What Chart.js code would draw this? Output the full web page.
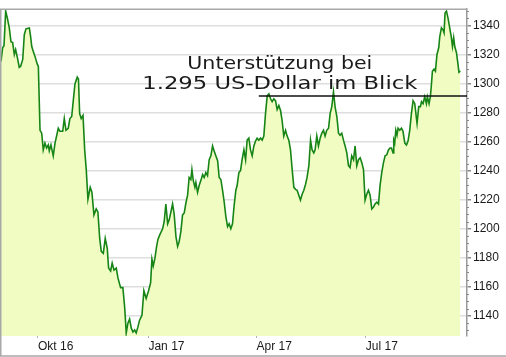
<!DOCTYPE html>
<html>
<head>
<meta charset="utf-8">
<script src="https://cdn.jsdelivr.net/npm/chart.js@4.4.0/dist/chart.umd.min.js"></script>
<style>
    html, body { margin: 0; padding: 0; background: #ffffff; }
    #wrap { width: 506px; height: 357px; }
</style>
</head>
<body>
<div id="wrap"><canvas id="goldChart" width="506" height="357"></canvas></div>
<script>
// Tage seit 1. Sep 2016
const days = [
    -0.8, 0.6, 1.7, 3.1, 4.5, 6.1, 7.5, 8.9, 10.3, 11.4,
    12.8, 14.4, 15.6, 17.3, 18.6, 20.0, 22.8, 23.9, 24.8, 26.1,
    27.5, 29.4, 30.3, 31.7, 33.1, 34.4, 35.8, 37.2, 38.6, 39.4,
    40.8, 42.7, 44.2, 46.9, 48.3, 50.6, 51.9, 53.3, 55.2, 56.6,
    58.1, 59.4, 60.8, 62.7, 63.7, 64.7, 66.0, 67.5, 68.9, 70.2,
    71.6, 73.5, 74.9, 76.6, 78.5, 79.9, 81.4, 82.7, 84.4, 86.0,
    87.7, 88.8, 90.5, 91.8, 93.3, 95.2, 96.6, 98.8, 100.7, 102.2,
    103.5, 104.9, 106.3, 107.7, 109.1, 110.5, 111.8, 113.2, 114.6, 116.6,
    118.2, 120.1, 122.1, 123.8, 124.9, 126.0, 127.4, 128.8, 129.9, 131.5,
    133.8, 135.1, 136.5, 138.0, 139.3, 140.7, 142.1, 143.4, 144.9, 146.3,
    147.6, 149.0, 150.4, 151.8, 153.2, 154.6, 155.9, 157.3, 158.2, 159.3,
    160.7, 161.5, 162.9, 164.3, 165.7, 167.1, 168.4, 169.8, 171.2, 172.6,
    174.0, 175.4, 176.7, 178.1, 179.6, 180.9, 182.3, 183.7, 185.1, 186.5,
    187.9, 189.2, 190.6, 192.0, 193.4, 194.8, 195.9, 197.3, 198.7, 200.0,
    201.5, 202.9, 204.2, 205.6, 207.0, 208.4, 209.8, 211.2, 212.5, 213.9,
    215.4, 216.7, 218.1, 219.5, 220.9, 222.3, 223.7, 225.0, 226.4, 227.8,
    229.2, 230.6, 232.0, 233.3, 234.7, 236.2, 237.5, 238.9, 240.3, 241.7,
    243.1, 244.5, 245.8, 247.2, 248.6, 250.0, 251.4, 252.8, 254.1, 255.6,
    257.0, 258.3, 259.7, 260.8, 262.2, 263.6, 265.0, 266.4, 267.8, 269.1,
    270.5, 272.0, 273.3, 274.7, 276.1, 277.4, 278.9, 280.3, 281.6, 283.0,
    284.4, 285.8, 287.2, 288.6, 289.9, 291.3, 292.8, 294.1, 295.5, 296.9,
    298.3, 299.7, 301.1, 302.4, 303.8, 305.2, 306.6, 308.0, 309.4, 310.7,
    312.2, 313.6, 314.9, 316.3, 317.7, 319.1, 320.5, 321.9, 323.2, 324.4,
    325.7, 326.3, 327.1, 328.0, 329.0, 329.9, 331.3, 332.7, 334.0, 335.5,
    336.9, 338.2, 339.6, 341.0, 342.4, 343.8, 345.2, 345.7, 347.1, 348.5,
    349.4, 350.7, 352.1, 353.5, 354.3, 355.7, 356.8, 357.7, 358.5, 359.8,
    361.0, 362.3, 363.8, 364.6, 366.0, 367.3, 368.2, 369.0, 370.2, 371.5,
    372.9, 374.3, 375.2, 376.2, 377.1, 378.5, 379.6, 380.6, 381.8
];

// Goldpreis in US-Dollar je Unze
const prices = [
    1315.4, 1324.9, 1326.2, 1350.0, 1345.2, 1338.4, 1328.9, 1328.3, 1320.1, 1323.5,
    1318.1, 1311.3, 1312.0, 1316.7, 1333.7, 1337.8, 1338.4, 1332.3, 1325.6, 1322.2,
    1318.8, 1313.4, 1312.0, 1267.9, 1265.9, 1254.4, 1259.1, 1255.7, 1257.8, 1253.7,
    1257.8, 1250.3, 1259.1, 1269.3, 1267.2, 1267.2, 1276.0, 1267.9, 1269.3, 1276.0,
    1277.4, 1288.3, 1299.8, 1304.5, 1303.2, 1279.4, 1276.0, 1278.1, 1254.4, 1240.8,
    1220.4, 1228.6, 1225.2, 1209.6, 1213.7, 1211.7, 1193.4, 1184.5, 1183.2, 1193.4,
    1186.6, 1173.0, 1171.0, 1176.4, 1171.6, 1173.0, 1166.2, 1159.5, 1159.5, 1145.9,
    1128.3, 1135.0, 1137.8, 1131.6, 1128.9, 1130.3, 1128.3, 1132.3, 1137.1, 1140.5,
    1157.4, 1152.0, 1157.4, 1162.8, 1179.1, 1174.4, 1179.8, 1187.9, 1192.7, 1196.0,
    1200.1, 1204.9, 1217.1, 1203.5, 1206.2, 1211.6, 1217.1, 1210.3, 1194.7, 1187.9,
    1191.3, 1198.1, 1209.6, 1211.0, 1217.8, 1223.2, 1235.4, 1234.0, 1240.8, 1233.4,
    1228.6, 1232.0, 1225.2, 1230.0, 1233.4, 1237.4, 1235.4, 1238.8, 1236.7, 1247.6,
    1250.3, 1257.1, 1253.7, 1250.3, 1246.9, 1235.4, 1234.0, 1226.6, 1218.4, 1208.3,
    1201.5, 1203.5, 1200.1, 1203.5, 1216.4, 1226.6, 1230.0, 1238.8, 1240.1, 1247.6,
    1254.4, 1247.6, 1261.1, 1262.5, 1254.4, 1250.3, 1257.1, 1260.5, 1262.5, 1261.1,
    1262.5, 1261.1, 1263.9, 1279.4, 1291.6, 1293.0, 1289.6, 1287.6, 1289.6, 1288.3,
    1282.2, 1284.9, 1281.5, 1274.7, 1263.9, 1267.9, 1263.9, 1261.1, 1254.4, 1240.8,
    1228.6, 1227.2, 1226.6, 1223.2, 1219.8, 1223.9, 1226.6, 1230.6, 1235.4, 1243.5,
    1261.1, 1254.4, 1252.3, 1254.4, 1263.9, 1257.1, 1262.5, 1265.9, 1267.9, 1263.9,
    1267.9, 1269.3, 1279.4, 1284.2, 1294.4, 1284.2, 1277.4, 1265.9, 1264.5, 1265.9,
    1261.1, 1257.1, 1252.3, 1243.5, 1242.2, 1250.3, 1247.6, 1257.1, 1243.5, 1247.6,
    1248.9, 1245.5, 1240.8, 1219.8, 1223.9, 1226.6, 1223.2, 1213.7, 1215.0, 1217.1,
    1218.4, 1217.1, 1229.9, 1238.8, 1245.5, 1250.3, 1251.0, 1254.4, 1255.7, 1255.7,
    1252.3, 1261.1, 1259.1, 1267.9, 1264.5, 1269.3, 1267.9, 1269.3, 1267.2, 1259.1,
    1257.8, 1260.5, 1267.9, 1279.4, 1288.3, 1286.2, 1276.0, 1272.6, 1284.2, 1284.2,
    1287.6, 1286.2, 1291.0, 1286.2, 1291.0, 1286.2, 1291.0, 1299.8, 1308.6, 1310.0,
    1308.6, 1320.1, 1324.9, 1332.3, 1338.4, 1337.1, 1335.0, 1348.6, 1350.0, 1345.2,
    1338.4, 1331.7, 1325.6, 1331.7, 1325.6, 1321.5, 1314.7, 1307.9, 1308.6
];

// Achsen
const monthTicks = [30, 122, 212, 303];
const monthLabels = ['Okt 16', 'Jan 17', 'Apr 17', 'Jul 17'];
const priceTicks = [1140, 1160, 1180, 1200, 1220, 1240, 1260, 1280, 1300, 1320, 1340];

// Unterstützungslinie + Notiz
const supportLevel = 1291.5;
const supportFrom = 213.9;
const noteLines = ['Unterstützung bei', '1.295 US-Dollar im Blick'];

const points = days.map((d, i) => ({ x: d, y: prices[i] }));

// Rahmen oben/links/unten
const framePlugin = {
    id: 'frame',
    afterDraw(chart) {
        const { ctx, chartArea } = chart;
        ctx.save();
        ctx.strokeStyle = '#a8a8a8';
        ctx.lineWidth = 1.5;
        ctx.beginPath();
        ctx.moveTo(0, chartArea.top);
        ctx.lineTo(chartArea.right, chartArea.top);
        ctx.moveTo(0.75, chartArea.top);
        ctx.lineTo(0.75, chart.height - 1);
        ctx.moveTo(0, chart.height - 1);
        ctx.lineTo(chart.width, chart.height - 1);
        ctx.stroke();
        ctx.restore();
    }
};

// kleine Zwischenstriche an der rechten Achse (alle 5 USD)
const minorTicksPlugin = {
    id: 'minorTicks',
    afterDraw(chart) {
        const { ctx } = chart;
        const y = chart.scales.y;
        ctx.save();
        ctx.strokeStyle = '#888888';
        ctx.lineWidth = 1;
        ctx.beginPath();
        for (let v = Math.ceil(y.min / 5) * 5; v <= y.max; v += 5) {
            if (v % 20 === 0) continue;
            const py = Math.round(y.getPixelForValue(v)) + 0.5;
            ctx.moveTo(y.left, py);
            ctx.lineTo(y.left + 2, py);
        }
        ctx.stroke();
        ctx.restore();
    }
};

const supportPlugin = {
    id: 'support',
    afterDatasetsDraw(chart) {
        const { ctx, chartArea } = chart;
        const x0 = chart.scales.x.getPixelForValue(supportFrom);
        const yLine = chart.scales.y.getPixelForValue(supportLevel);

        ctx.save();
        ctx.strokeStyle = '#111111';
        ctx.lineWidth = 1.5;
        ctx.beginPath();
        ctx.moveTo(x0, yLine);
        ctx.lineTo(chartArea.right, yLine);
        ctx.stroke();

        // handschriftliche Notiz, auf Breite gezogen
        ctx.fillStyle = '#1a1a1a';
        ctx.font = '18px "DejaVu Sans"';
        ctx.textAlign = 'center';
        ctx.textBaseline = 'alphabetic';
        const widths = [185, 275];
        const offsets = [-27, -7];
        const cx = x0 + 21;
        noteLines.forEach((txt, i) => {
            const w = ctx.measureText(txt).width;
            ctx.save();
            ctx.translate(cx, yLine + offsets[i]);
            ctx.scale(widths[i] / w, 1);
            ctx.fillText(txt, 0, 0);
            ctx.restore();
        });
        ctx.restore();
    }
};

new Chart(document.getElementById('goldChart'), {
    type: 'line',
    data: {
        datasets: [{
            data: points,
            borderColor: '#168516',
            backgroundColor: '#f1fcc3',
            borderWidth: 1.6,
            fill: 'start',
            tension: 0,
            pointRadius: 0
        }]
    },
    options: {
        responsive: false,
        devicePixelRatio: 1,
        animation: false,
        layout: {
            padding: { top: 4, left: 1, right: 0, bottom: 0 }
        },
        plugins: {
            legend: { display: false },
            tooltip: { enabled: false }
        },
        scales: {
            x: {
                type: 'linear',
                min: -0.8,
                max: 387.3,
                afterBuildTicks: (axis) => {
                    axis.ticks = monthTicks.map(v => ({ value: v }));
                },
                afterFit: (axis) => { axis.height = 21; },
                border: { display: false },
                grid: {
                    drawOnChartArea: false,
                    tickLength: 2,
                    color: '#b0b0b0'
                },
                ticks: {
                    align: 'start',
                    autoSkip: false,
                    maxRotation: 0,
                    padding: 1,
                    color: '#1a1a1a',
                    font: { family: '"Liberation Sans", Arial, sans-serif', size: 12 },
                    callback: (value) => monthLabels[monthTicks.indexOf(value)]
                }
            },
            y: {
                position: 'right',
                min: 1126.2,
                max: 1351.3,
                afterBuildTicks: (axis) => {
                    axis.ticks = priceTicks.map(v => ({ value: v }));
                },
                afterFit: (axis) => { axis.width = 39; },
                border: { display: true, color: '#999999', width: 1.5 },
                grid: {
                    color: '#dedede',
                    lineWidth: 1.5,
                    tickLength: 4,
                    tickColor: '#888888'
                },
                ticks: {
                    padding: 2,
                    color: '#1a1a1a',
                    font: { family: '"Liberation Sans", Arial, sans-serif', size: 12 },
                    callback: (value) => String(value)
                }
            }
        }
    },
    plugins: [framePlugin, minorTicksPlugin, supportPlugin]
});
</script>
</body>
</html>
